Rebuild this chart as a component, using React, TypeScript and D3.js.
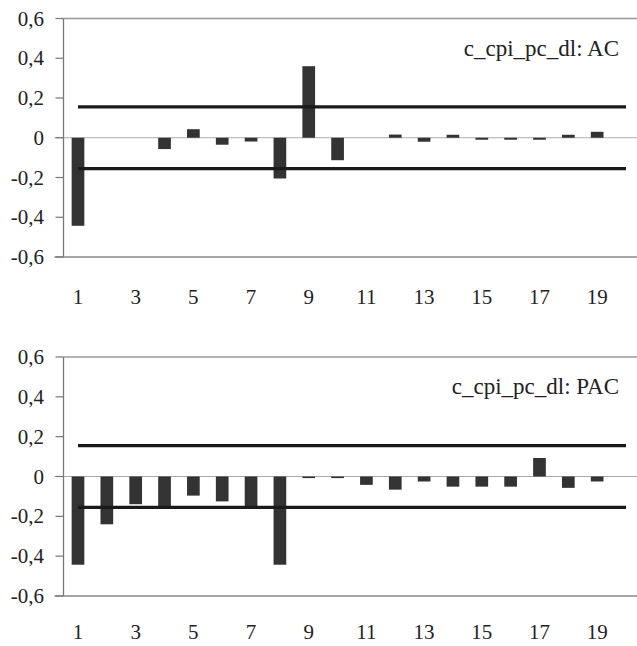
import React from 'react';
import * as d3 from 'd3';

// lags 1..20
const lags: number[] = d3.range(1, 21);

// autocorrelation
const acValues: number[] = [
  -0.443, 0, 0, -0.057, 0.043, -0.035, -0.019, -0.205, 0.36, -0.113,
  0, 0.016, -0.02, 0.015, -0.01, -0.01, -0.01, 0.015, 0.03, 0,
];

// partial autocorrelation
const pacValues: number[] = [
  -0.443, -0.24, -0.139, -0.155, -0.096, -0.125, -0.155, -0.443, -0.008, -0.008,
  -0.042, -0.066, -0.025, -0.051, -0.051, -0.051, 0.093, -0.057, -0.025, 0,
];

// confidence band +-
const bound = 0.155;

const yTicks: number[] = [-0.6, -0.4, -0.2, 0, 0.2, 0.4, 0.6];
const xTickLabels: string[] = ['1', '3', '5', '7', '9', '11', '13', '15', '17', '19'];

const titles: string[] = ['c_cpi_pc_dl: AC', 'c_cpi_pc_dl: PAC'];

const W = 637;
const H = 646;
const font = '"Liberation Serif", "Times New Roman", serif';

// "0,6" / "-0,2" style, plain hyphen for minus
const fmt = (v: number) =>
  Math.abs(v) < 1e-9 ? '0' : d3.format('.1f')(v).replace('.', ',').replace('\u2212', '-');

interface PanelProps {
  values: number[];
  title: string;
  top: number; // y of 0.6
  bottom: number; // y of -0.6
  labelGap: number;
}

const Panel = ({ values, title, top, bottom, labelGap }: PanelProps) => {
  const x = d3.scalePoint<number>().domain(lags).range([78, 626]);
  const y = d3.scaleLinear().domain([-0.6, 0.6]).range([bottom, top]);
  const barW = x.step() * 0.44;
  const axisX = 63.5;

  const bandLine = d3
    .line<number>()
    .x((d) => x(d) as number)
    .y(() => 0);

  return (
    <g>
      {/* frame lines */}
      <line x1={axisX} x2={W + 5} y1={y(0.6)} y2={y(0.6)} stroke="#999" strokeWidth={1.5} />
      <line x1={axisX - 9} x2={W + 5} y1={y(-0.6)} y2={y(-0.6)} stroke="#888" strokeWidth={1.3} />
      <line x1={axisX - 9} x2={W + 5} y1={y(0)} y2={y(0)} stroke="#aaa" strokeWidth={1} />
      <line x1={axisX} x2={axisX} y1={y(0.6)} y2={y(-0.6)} stroke="#777" strokeWidth={1.3} />
      {yTicks.map((t) => (
        <g key={t}>
          <line x1={axisX - 8} x2={axisX} y1={y(t)} y2={y(t)} stroke="#777" strokeWidth={1.2} />
          <text
            x={44}
            y={y(t)}
            textAnchor="end"
            dominantBaseline="central"
            fontSize={21}
            fontFamily={font}
            fill="#222"
          >
            {fmt(t)}
          </text>
        </g>
      ))}

      {/* bars */}
      {values.map((v, i) => (
        <rect
          key={i}
          x={(x(lags[i]) as number) - barW / 2}
          width={barW}
          y={y(Math.max(0, v))}
          height={Math.abs(y(v) - y(0))}
          fill="#333"
        />
      ))}

      {/* confidence lines */}
      {[bound, -bound].map((b) => (
        <path
          key={b}
          d={bandLine(lags) ?? ''}
          transform={`translate(0,${y(b)})`}
          stroke="#1a1a1a"
          strokeWidth={3.2}
          fill="none"
        />
      ))}

      {/* x labels */}
      {xTickLabels.map((l) => (
        <text
          key={l}
          x={x(+l) as number}
          y={bottom + labelGap}
          textAnchor="middle"
          fontSize={21}
          fontFamily={font}
          fill="#222"
        >
          {l}
        </text>
      ))}

      <text x={619} y={top + 37} textAnchor="end" fontSize={23} fontFamily={font} fill="#222">
        {title}
      </text>
    </g>
  );
};

const App = () => {
  return (
    <svg
      width={W}
      height={H}
      style={{ position: 'absolute', left: 0, top: 0, background: '#fff' }}
    >
      <Panel values={acValues} title={titles[0]} top={18.5} bottom={257} labelGap={47} />
      <Panel values={pacValues} title={titles[1]} top={357} bottom={596} labelGap={43} />
    </svg>
  );
};

export default App;
